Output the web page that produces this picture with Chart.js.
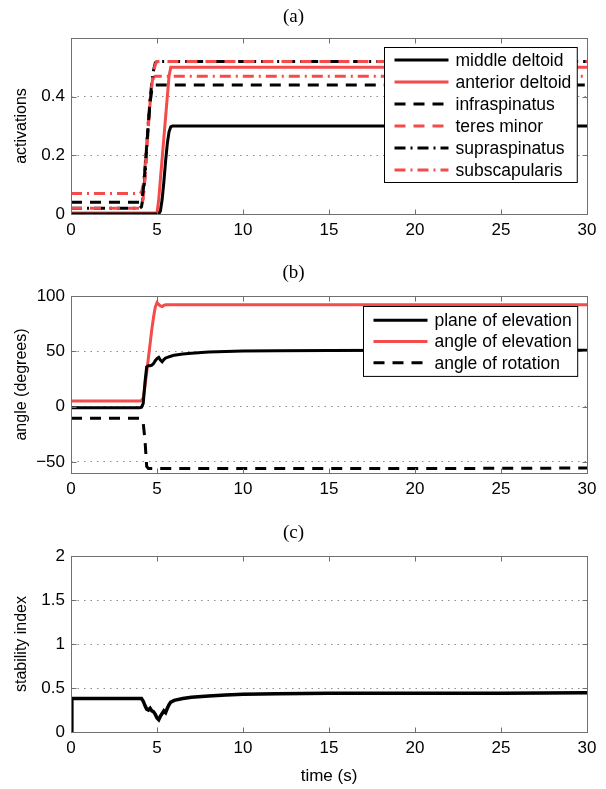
<!DOCTYPE html>
<html>
<head>
<meta charset="utf-8">
<script src="https://cdn.jsdelivr.net/npm/chart.js@4.4.0/dist/chart.umd.min.js"></script>
<style>
  html, body { margin: 0; padding: 0; background: #fff; }
  canvas { display: block; }
</style>
</head>
<body>
<canvas id="chartA" width="606" height="245"></canvas>
<canvas id="chartB" width="606" height="259"></canvas>
<canvas id="chartC" width="606" height="285"></canvas>
<script>
// (a) activations
const timeA = [0, 4.0, 4.1, 4.2, 4.3, 4.4, 4.5, 4.6, 4.7, 4.8, 4.9, 5.0, 5.1, 5.2, 5.3, 5.4, 5.5, 5.6, 5.7, 5.8, 5.9, 6.0, 30];
const middleDeltoid   = [0, 0, 0, 0, 0, 0, 0, 0, 0, 0, 0, 0, 0, 0.01, 0.05, 0.11, 0.18, 0.24, 0.28, 0.297, 0.3, 0.3, 0.3];
const anteriorDeltoid = [0.003, 0.003, 0.003, 0.003, 0.003, 0.003, 0.003, 0.003, 0.003, 0.003, 0.003, 0.003, 0.05, 0.12, 0.19, 0.26, 0.33, 0.40, 0.47, 0.5, 0.5, 0.5, 0.5];
const infraspinatus   = [0.04, 0.04, 0.045, 0.08, 0.15, 0.23, 0.31, 0.38, 0.425, 0.44, 0.44, 0.44, 0.44, 0.44, 0.44, 0.44, 0.44, 0.44, 0.44, 0.44, 0.44, 0.44, 0.44];
const teresMinor      = [0.02, 0.02, 0.025, 0.055, 0.12, 0.21, 0.30, 0.38, 0.44, 0.485, 0.51, 0.52, 0.52, 0.52, 0.52, 0.52, 0.52, 0.52, 0.52, 0.52, 0.52, 0.52, 0.52];
const supraspinatus   = [0.02, 0.02, 0.025, 0.06, 0.13, 0.22, 0.31, 0.39, 0.45, 0.49, 0.515, 0.52, 0.52, 0.52, 0.52, 0.52, 0.52, 0.52, 0.52, 0.52, 0.52, 0.52, 0.52];
const subscapularis   = [0.07, 0.07, 0.075, 0.1, 0.16, 0.24, 0.32, 0.39, 0.44, 0.465, 0.47, 0.47, 0.47, 0.47, 0.47, 0.47, 0.47, 0.47, 0.47, 0.47, 0.47, 0.47, 0.47];
const yTicksA = [0, 0.2, 0.4];

// (b) angles
const timeB = [0, 4.0, 4.1, 4.2, 4.3, 4.4, 4.5, 4.6, 4.7, 4.8, 4.9, 5.0, 5.1, 5.2, 5.3, 5.4, 5.5, 5.6, 5.8, 6.0, 6.5, 7, 8, 9, 10, 12, 15, 20, 30];
const planeOfElevation = [-1, -1, -0.5, 3, 22, 36, 37, 37, 37.5, 39, 41.5, 43.5, 44.5, 42, 40.5, 42.5, 44, 44.5, 45.5, 46.5, 47.5, 48.3, 49.3, 49.8, 50.2, 50.6, 50.8, 51, 51];
const angleOfElevation = [5, 5, 5.5, 8, 18, 31, 44, 57, 70, 81, 90, 94, 92.5, 91, 90.5, 91.5, 92, 92, 92, 92, 92, 92, 92, 92, 92, 92, 92, 92, 92];
const angleOfRotation  = [-10.5, -10.5, -11.5, -15, -30, -54, -56, -56, -56, -56, -56, -56, -56, -56, -56, -56, -56, -56, -56, -56, -56, -56, -56, -56, -56, -56, -56, -56, -55.5];
const yTicksB = [-50, 0, 50, 100];

// (c) stability
const timeC = [0, 0.05, 4.0, 4.1, 4.2, 4.3, 4.4, 4.5, 4.6, 4.7, 4.8, 4.9, 5.0, 5.1, 5.2, 5.3, 5.4, 5.5, 5.6, 5.7, 5.8, 6.0, 6.5, 7, 8, 9, 10, 12, 15, 20, 25, 30];
const stabilityIndex = [0, 0.38, 0.38, 0.38, 0.35, 0.3, 0.26, 0.25, 0.27, 0.24, 0.23, 0.2, 0.16, 0.14, 0.18, 0.21, 0.24, 0.22, 0.27, 0.31, 0.34, 0.36, 0.38, 0.395, 0.41, 0.42, 0.43, 0.435, 0.44, 0.44, 0.44, 0.445];
const yTicksC = [0, 0.5, 1, 1.5, 2];

const RED = '#f44b4b';
const BLACK = '#000';
const DASH = [11, 8];
const DASHDOT = [11, 5, 2, 5];

Chart.defaults.font.family = '"Liberation Sans", Arial, sans-serif';

function pts(times, vals) {
	return times.map((t, i) => ({ x: t, y: vals[i] }));
}

function fmt(v) {
	return v < 0 ? '\u2212' + (-v) : String(v);
}

// matlab style box, inward ticks and the boxed legend on top
const frame = {
	id: 'boxLegend',
	afterDraw(chart, args, opts) {
		const { ctx, chartArea: a, scales } = chart;
		const L = Math.round(a.left) + 0.5, R = Math.round(a.right) + 0.5;
		const T = Math.round(a.top) + 0.5, B = Math.round(a.bottom) + 0.5;
		ctx.save();
		ctx.strokeStyle = '#707070';
		ctx.lineWidth = 1;
		ctx.setLineDash([]);
		ctx.strokeRect(L, T, R - L, B - T);
		ctx.beginPath();
		scales.x.ticks.forEach(t => {
			const p = Math.round(scales.x.getPixelForValue(t.value)) + 0.5;
			ctx.moveTo(p, B); ctx.lineTo(p, B - 5);
			ctx.moveTo(p, T); ctx.lineTo(p, T + 5);
		});
		scales.y.ticks.forEach(t => {
			const p = Math.round(scales.y.getPixelForValue(t.value)) + 0.5;
			ctx.moveTo(L, p); ctx.lineTo(L + 5, p);
			ctx.moveTo(R, p); ctx.lineTo(R - 5, p);
		});
		ctx.stroke();

		if (opts && opts.show) {
			const ds = chart.data.datasets;
			ctx.font = '17.5px "Liberation Sans", Arial, sans-serif';
			const maxW = Math.max(...ds.map(d => ctx.measureText(d.label).width));
			const w = 71 + maxW + 6;
			const h = ds.length * opts.rowHeight + opts.pad * 2;
			const x0 = Math.round(a.right - opts.right - w) + 0.5;
			const y0 = Math.round(a.top + opts.top) + 0.5;
			ctx.fillStyle = '#fff';
			ctx.fillRect(x0, y0, w, h);
			ctx.strokeStyle = '#000';
			ctx.strokeRect(x0, y0, w, h);
			ds.forEach((d, i) => {
				const cy = y0 + opts.pad + opts.rowHeight * (i + 0.5);
				ctx.beginPath();
				ctx.strokeStyle = d.borderColor;
				ctx.lineWidth = d.borderWidth || 3;
				ctx.setLineDash(d.borderDash || []);
				ctx.moveTo(x0 + 10, cy);
				ctx.lineTo(x0 + 64, cy);
				ctx.stroke();
				ctx.setLineDash([]);
				ctx.fillStyle = '#000';
				ctx.textBaseline = 'middle';
				ctx.textAlign = 'left';
				ctx.fillText(d.label, x0 + 71, cy + 1);
			});
		}
		ctx.restore();
	}
};

function panel(id, cfg) {
	return new Chart(document.getElementById(id), {
		type: 'line',
		data: { datasets: cfg.datasets },
		options: {
			responsive: false,
			animation: false,
			events: [],
			layout: { padding: { left: 0, right: 19, top: 0, bottom: 0 } },
			elements: {
				point: { radius: 0 },
				line: { tension: 0, borderWidth: 3, borderCapStyle: 'butt' }
			},
			plugins: {
				legend: { display: false },
				tooltip: { enabled: false },
				title: {
					display: true,
					text: cfg.title,
					color: '#000',
					font: { family: '"Liberation Serif", "Times New Roman", serif', size: 19, weight: 'normal' },
					padding: cfg.titlePad
				},
				boxLegend: cfg.legend
			},
			scales: {
				x: {
					type: 'linear',
					min: 0,
					max: 30,
					grid: { display: false, drawTicks: false },
					border: { display: false },
					ticks: { stepSize: 5, padding: 6, color: '#000', font: { size: 17 }, maxRotation: 0 },
					title: cfg.xTitle
						? { display: true, text: cfg.xTitle, color: '#000', font: { size: 17 }, padding: { top: 0, bottom: 2 } }
						: { display: false },
					afterFit: s => { s.height = cfg.xHeight; }
				},
				y: {
					type: 'linear',
					min: cfg.yMin,
					max: cfg.yMax,
					afterBuildTicks: s => { s.ticks = cfg.yTicks.map(v => ({ value: v })); },
					grid: { color: '#8c8c8c', lineWidth: 1, drawTicks: false },
					border: { display: false, dash: [1.5, 5] },
					ticks: { padding: 6, color: '#000', font: { size: 17 }, callback: v => fmt(v) },
					title: { display: true, text: cfg.yTitle, color: '#000', font: { size: 16 }, padding: { top: 12, bottom: 0 } },
					afterFit: s => { s.width = 71; }
				}
			}
		},
		plugins: [frame]
	});
}

panel('chartA', {
	title: '(a)',
	titlePad: { top: 5.6, bottom: 9.6 },
	xHeight: 31,
	yMin: 0, yMax: 0.6, yTicks: yTicksA,
	yTitle: 'activations',
	legend: { show: true, top: 9, right: 10, rowHeight: 22, pad: 1.5 },
	datasets: [
		{ label: 'middle deltoid', data: pts(timeA, middleDeltoid), borderColor: BLACK, borderWidth: 3 },
		{ label: 'anterior deltoid', data: pts(timeA, anteriorDeltoid), borderColor: RED, borderWidth: 3 },
		{ label: 'infraspinatus', data: pts(timeA, infraspinatus), borderColor: BLACK, borderWidth: 3, borderDash: DASH },
		{ label: 'teres minor', data: pts(timeA, teresMinor), borderColor: RED, borderWidth: 3, borderDash: DASH },
		{ label: 'supraspinatus', data: pts(timeA, supraspinatus), borderColor: BLACK, borderWidth: 3, borderDash: DASHDOT },
		{ label: 'subscapularis', data: pts(timeA, subscapularis), borderColor: RED, borderWidth: 3, borderDash: DASHDOT }
	]
});

panel('chartB', {
	title: '(b)',
	titlePad: { top: 16.6, bottom: 11.6 },
	xHeight: 31,
	yMin: -60, yMax: 100, yTicks: yTicksB,
	yTitle: 'angle (degrees)',
	legend: { show: true, top: 10, right: 10, rowHeight: 21.3, pad: 3 },
	datasets: [
		{ label: 'plane of elevation', data: pts(timeB, planeOfElevation), borderColor: BLACK, borderWidth: 3 },
		{ label: 'angle of elevation', data: pts(timeB, angleOfElevation), borderColor: RED, borderWidth: 3 },
		{ label: 'angle of rotation', data: pts(timeB, angleOfRotation), borderColor: BLACK, borderWidth: 3, borderDash: DASH }
	]
});

panel('chartC', {
	title: '(c)',
	titlePad: { top: 17.6, bottom: 11.6 },
	xHeight: 57,
	xTitle: 'time (s)',
	yMin: 0, yMax: 2, yTicks: yTicksC,
	yTitle: 'stability index',
	legend: { show: false },
	datasets: [
		{ label: 'stability index', data: pts(timeC, stabilityIndex), borderColor: BLACK, borderWidth: 3.5 }
	]
});
</script>
</body>
</html>
